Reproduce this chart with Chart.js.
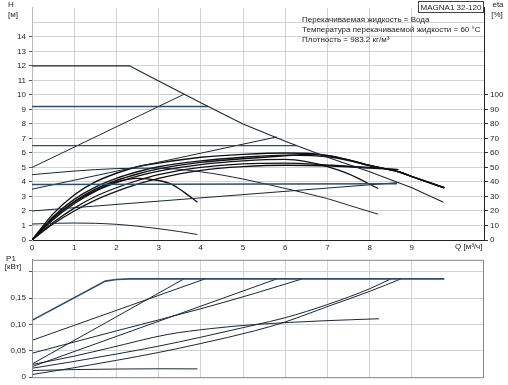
<!DOCTYPE html>
<html>
<head>
<meta charset="utf-8">
<script src="https://cdn.jsdelivr.net/npm/chart.js@4.4.1/dist/chart.umd.min.js"></script>
<style>
    html, body { margin: 0; padding: 0; background: #fff; }
    #wrap { position: relative; width: 508px; height: 385px; }
    #hq { position: absolute; left: 0; top: 0; }
    #p1 { position: absolute; left: 0; top: 252px; }
</style>
</head>
<body>
<div id="wrap">
    <canvas id="hq" width="508" height="252" style="width:508px;height:252px"></canvas>
    <canvas id="p1" width="508" height="133" style="width:508px;height:133px"></canvas>
</div>
<script>
// Curva massima H [м]
const qMax = [0, 2.31, 3, 4, 5, 6, 7, 8, 9, 9.75];
const hMax = [12, 12, 10.95, 9.45, 8.0, 6.8, 5.7, 4.7, 3.6, 2.6];

// Curva a velocità costante e curva minima
const qSpeed = [0, 1, 2, 3, 4, 5, 6, 7, 7.5, 8.2];
const hSpeed = [4.5, 4.75, 4.92, 4.95, 4.7, 4.2, 3.55, 2.85, 2.4, 1.78];
const qMin = [0, 0.5, 1, 1.5, 2, 2.5, 3, 3.5, 3.92];
const hMin = [1.1, 1.15, 1.17, 1.15, 1.08, 0.95, 0.78, 0.58, 0.38];

// Pressione costante (CP) e proporzionale (PP)
const qCp3 = [0, 4.17], hCp3 = [9.2, 9.2];
const qCp2 = [0, 6.27], hCp2 = [6.5, 6.5];
const qCp1 = [0, 8.65], hCp1 = [3.82, 3.88];
const qPp3 = [0, 3.6], hPp3 = [5.0, 10.04];
const qPp2 = [0, 5.8], hPp2 = [3.5, 7.1];
const qPp1 = [0, 8.65], hPp1 = [2.0, 3.95];

// Rendimento eta [%]
const qEta1 = [0, 0.5, 1, 1.5, 2, 2.5, 3, 4, 5, 6, 6.5, 7.1, 8.05, 8.68, 9.04, 9.77];
const eta1 = [0, 18, 31, 40, 46, 50.5, 53, 57, 59, 60, 59.8, 57.8, 51, 47, 43.3, 36];
const qEta2 = [0, 0.5, 1, 1.5, 2, 2.5, 3, 4, 5, 6, 7.1, 8.05, 8.68, 9.04, 9.77];
const eta2 = [0, 16, 28, 36.5, 42.5, 47, 50.5, 54.5, 57, 58.5, 57, 51, 47, 43.3, 36];
const qEta7 = [0, 0.5, 1, 1.5, 2, 2.5, 3, 4, 5, 6, 6.5, 7.1, 8.05, 8.68, 9.04, 9.77];
const eta7 = [0, 15, 26.5, 35, 41, 45.5, 49, 53.5, 56, 58, 59, 57.8, 51, 47, 43.3, 36];
const qEta3 = [0, 0.5, 1, 1.5, 2, 2.5, 3, 4, 5, 6, 6.5, 7, 7.5, 8.2];
const eta3 = [0, 14, 25, 33.5, 39.5, 44, 47.5, 52, 54.5, 55.5, 54, 50.5, 45.5, 35.5];
const qEta4 = [0, 0.5, 1, 1.5, 2, 2.5, 3, 4, 5, 6, 7.1, 8, 8.68];
const eta4 = [0, 12, 22, 30, 36, 41, 45, 50, 52.5, 53, 51.5, 50, 48.5];
const qEta5 = [0, 0.5, 1, 1.5, 2, 2.5, 3, 4, 5, 6, 7.1, 8, 8.68];
const eta5 = [0, 11, 20, 27.5, 33.5, 38.5, 42.5, 48, 50.5, 51.5, 51, 49.5, 48.5];
const qEtaMin = [0, 0.5, 1, 1.5, 2, 2.5, 3, 3.3, 3.6, 3.92];
const etaMin = [0, 15, 26, 34, 40, 42.5, 41, 38.5, 33, 26];

// Potenza P1 [кВт]
const qPMax = [0, 1.74, 2.0, 2.31, 9.77];
const pMax = [0.108, 0.1825, 0.1855, 0.1867, 0.1867];
const qPCp3 = [0, 4.1], pCp3 = [0.070, 0.1867];
const qPPp3 = [0, 3.6], pPp3 = [0.025, 0.1867];
const qPCp2 = [0, 2, 4, 5.29, 6.4], pCp2 = [0.0455, 0.088, 0.13, 0.1595, 0.1867];
const qPPp2 = [0, 5.8], pPp2 = [0.02, 0.1867];
const qPCp1 = [0, 1, 2, 3, 4, 5.27, 6, 7, 8, 8.5];
const pCp1 = [0.017, 0.03, 0.044, 0.059, 0.076, 0.099, 0.113, 0.138, 0.168, 0.1867];
const qPPp1 = [0, 1, 2, 3, 4, 5.27, 6, 7.03, 8, 8.74];
const pPp1 = [0.005, 0.018, 0.032, 0.047, 0.064, 0.088, 0.105, 0.135, 0.163, 0.1867];
const qPSpeed = [0, 1, 1.86, 3.2, 4.2, 5.27, 6.87, 8.22];
const pSpeed = [0.024, 0.04, 0.056, 0.081, 0.092, 0.1, 0.107, 0.111];
const qPMin = [0, 1, 2, 3, 3.92];
const pMin = [0.0127, 0.0145, 0.0155, 0.016, 0.0158];

// Testi
const infoLines = [
    'Перекачиваемая жидкость = Вода',
    'Температура перекачиваемой жидкости = 60 °C',
    'Плотность = 983.2 кг/м³'
];
const pumpName = 'MAGNA1 32-120';

const FONT = '8px "Liberation Sans", Arial, sans-serif';
const GRID = '#d2d2d2';
const INK = '#222';

function pts(qs, vs) {
    return qs.map((q, i) => ({ x: q, y: vs[i] }));
}

function line(qs, vs, color, width, axis, smooth) {
    return {
        data: pts(qs, vs),
        borderColor: color,
        borderWidth: width,
        pointRadius: 0,
        fill: false,
        yAxisID: axis,
        tension: 0,
        cubicInterpolationMode: smooth ? 'monotone' : 'default'
    };
}

const DARK = '#1c2736';
const BLUE = '#2e4d6d';
const ETA = '#111';

// Etichette del grafico superiore
const hqLabels = {
    id: 'hqLabels',
    afterDraw(chart) {
        const ctx = chart.ctx;
        ctx.save();
        ctx.font = FONT;
        ctx.fillStyle = INK;
        ctx.textBaseline = 'middle';
        ctx.textAlign = 'center';
        ctx.fillText('H', 11, 5);
        ctx.fillText('[м]', 13, 15);
        ctx.fillText('eta', 498, 5);
        ctx.fillText('[%]', 497, 15);
        ctx.textAlign = 'left';
        ctx.fillText('Q [м³/ч]', 455, 247);
        infoLines.forEach((t, i) => ctx.fillText(t, 302, 20 + i * 10));
        ctx.strokeStyle = '#444';
        ctx.lineWidth = 1;
        ctx.strokeRect(418.5, 1.5, 65, 11);
        ctx.textAlign = 'center';
        ctx.fillText(pumpName, 451, 7.5);
        ctx.restore();
    }
};

// Etichette e bordo del grafico inferiore
const p1Labels = {
    id: 'p1Labels',
    afterDraw(chart) {
        const ctx = chart.ctx;
        const a = chart.chartArea;
        ctx.save();
        ctx.strokeStyle = '#8a8a8a';
        ctx.lineWidth = 1;
        ctx.strokeRect(a.left + 0.5, a.top + 0.5, a.right - a.left - 1, a.bottom - a.top);
        ctx.font = FONT;
        ctx.fillStyle = INK;
        ctx.textBaseline = 'middle';
        ctx.textAlign = 'center';
        ctx.fillText('P1', 11, 7);
        ctx.fillText('[кВт]', 13, 15);
        ctx.restore();
    }
};

const xScale = {
    type: 'linear',
    min: 0,
    max: 10.71,
    ticks: {
        stepSize: 1,
        font: { size: 8, family: '"Liberation Sans", Arial, sans-serif' },
        color: INK,
        padding: 3,
        maxRotation: 0,
        autoSkip: false,
        callback: (v) => (Number.isInteger(v) && v <= 9 ? String(v) : (v === 10 ? '' : null))
    },
    grid: { color: GRID, drawTicks: false },
    border: { color: '#222', width: 1 }
};

new Chart(document.getElementById('hq'), {
    type: 'line',
    data: {
        datasets: [
            line(qMax, hMax, DARK, 1.1, 'y', false),
            line(qCp3, hCp3, BLUE, 1.4, 'y', false),
            line(qCp2, hCp2, BLUE, 1.4, 'y', false),
            line(qCp1, hCp1, BLUE, 1.4, 'y', false),
            line(qPp3, hPp3, DARK, 1, 'y', false),
            line(qPp2, hPp2, DARK, 1, 'y', false),
            line(qPp1, hPp1, DARK, 1, 'y', false),
            line(qSpeed, hSpeed, DARK, 1, 'y', true),
            line(qMin, hMin, DARK, 1, 'y', true),
            line(qEta1, eta1, ETA, 1.4, 'eta', true),
            line(qEta2, eta2, ETA, 1.4, 'eta', true),
            line(qEta7, eta7, ETA, 1.4, 'eta', true),
            line(qEta3, eta3, ETA, 1.3, 'eta', true),
            line(qEta4, eta4, ETA, 1.3, 'eta', true),
            line(qEta5, eta5, ETA, 1.3, 'eta', true),
            line(qEtaMin, etaMin, ETA, 1.3, 'eta', true)
        ]
    },
    options: {
        responsive: false,
        animation: false,
        devicePixelRatio: 1,
        layout: { padding: 0 },
        plugins: { legend: { display: false }, tooltip: { enabled: false } },
        scales: {
            x: Object.assign({}, xScale, { afterFit: (s) => { s.height = 12; } }),
            y: {
                position: 'left',
                min: 0,
                max: 16,
                ticks: {
                    stepSize: 1,
                    font: { size: 8, family: '"Liberation Sans", Arial, sans-serif' },
                    color: INK,
                    padding: 3,
                    callback: (v) => (v === 16 ? null : (v === 15 ? '' : String(v)))
                },
                grid: {
                    color: GRID,
                    tickLength: 3,
                    // niente trattino per la riga di [м]
                    tickColor: (c) => (c.tick && c.tick.value === 15 ? 'rgba(0,0,0,0)' : '#555')
                },
                border: { color: '#bbb' },
                afterFit: (s) => { s.width = 32; }
            },
            eta: {
                position: 'right',
                min: 0,
                max: 160,
                ticks: {
                    stepSize: 10,
                    font: { size: 8, family: '"Liberation Sans", Arial, sans-serif' },
                    color: INK,
                    padding: 2,
                    callback: (v) => (v <= 100 ? String(v) : null)
                },
                grid: { drawOnChartArea: false, tickLength: 4, tickColor: '#333' },
                border: { color: '#222', width: 1 },
                afterFit: (s) => { s.width = 24; }
            }
        }
    },
    plugins: [hqLabels]
});

new Chart(document.getElementById('p1'), {
    type: 'line',
    data: {
        datasets: [
            line(qPMax, pMax, BLUE, 1.6, 'y', false),
            line(qPCp3, pCp3, DARK, 1, 'y', false),
            line(qPPp3, pPp3, DARK, 1, 'y', false),
            line(qPCp2, pCp2, DARK, 1, 'y', true),
            line(qPPp2, pPp2, DARK, 1, 'y', false),
            line(qPCp1, pCp1, DARK, 1, 'y', true),
            line(qPPp1, pPp1, DARK, 1, 'y', true),
            line(qPSpeed, pSpeed, DARK, 1, 'y', true),
            line(qPMin, pMin, DARK, 1, 'y', true)
        ]
    },
    options: {
        responsive: false,
        animation: false,
        devicePixelRatio: 1,
        layout: { padding: { top: 3, bottom: 7, right: 24, left: 0 } },
        plugins: { legend: { display: false }, tooltip: { enabled: false } },
        scales: {
            x: Object.assign({}, xScale, {
                ticks: Object.assign({}, xScale.ticks, { display: false }),
                border: { display: false },
                afterFit: (s) => { s.height = 0; }
            }),
            y: {
                min: 0,
                max: 0.223,
                ticks: {
                    stepSize: 0.05,
                    font: { size: 8, family: '"Liberation Sans", Arial, sans-serif' },
                    color: INK,
                    padding: 3,
                    callback: (v) => {
                        const r = Math.round(v * 100) / 100;
                        if (Math.abs(v - r) > 1e-6) return null;
                        if (r === 0) return '0';
                        if (r > 0.16) return '';
                        return r.toFixed(2).replace('.', ',');
                    }
                },
                grid: { color: GRID, tickLength: 3, tickColor: '#555' },
                border: { color: '#8a8a8a' },
                afterFit: (s) => { s.width = 32; }
            }
        }
    },
    plugins: [p1Labels]
});
</script>
</body>
</html>
